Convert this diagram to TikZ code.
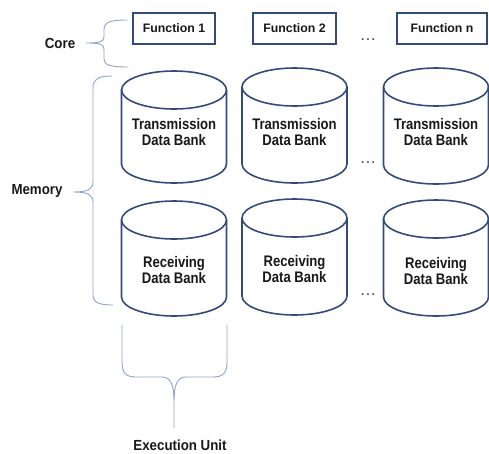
\documentclass[tikz,border=0pt]{standalone}
\usepackage{fontspec}
\setmainfont{Liberation Sans}
\definecolor{bankblue}{RGB}{52,74,122}
\definecolor{bracecol}{RGB}{140,165,200}
\definecolor{txt}{RGB}{25,25,25}
\newcommand\tallt[1]{\scalebox{1}[1.17]{#1}}
\newcommand\talll[1]{\scalebox{1}[1.1]{#1}}
\tikzset{
  bankline/.style={draw=bankblue, line width=1.6pt, fill=white},
  funcbox/.style={draw=bankblue, line width=1.6pt, fill=white, inner sep=0pt,
    font=\fontsize{12.3}{14}\selectfont\bfseries, text=txt},
  banktext/.style={align=center, inner sep=0pt,
    font=\fontsize{13.1}{16.5}\selectfont\bfseries, text=txt},
  lbl/.style={inner sep=0pt, font=\fontsize{13.3}{16}\selectfont\bfseries, text=txt},
  dotlbl/.style={inner sep=0pt, font=\fontsize{12}{14}\selectfont\bfseries, text=txt!75},
  bracepath/.style={draw=bracecol, line width=0.9pt, line cap=round, line join=round}
}
% #1 cx, #2 top, #3 bottom, #4 text y, #5 name, #6 line 1, #7 line 2
\newcommand\dbank[7]{%
  \draw[bankline] ({#1-52.5},{#2+19}) -- ({#1-52.5},{#3-19})
    .. controls ({#1-52.5},{#3-8.5}) and ({#1-29},{#3}) .. ({#1},{#3})
    .. controls ({#1+29},{#3}) and ({#1+52.5},{#3-8.5}) .. ({#1+52.5},{#3-19})
    -- ({#1+52.5},{#2+19})
    .. controls ({#1+52.5},{#2+8.5}) and ({#1+29},{#2}) .. ({#1},{#2})
    .. controls ({#1-29},{#2}) and ({#1-52.5},{#2+8.5}) .. ({#1-52.5},{#2+19}) -- cycle;
  \draw[bankline, fill=none] ({#1-52.5},{#2+19})
    .. controls ({#1-52.5},{#2+29.5}) and ({#1-29},{#2+38}) .. ({#1},{#2+38})
    .. controls ({#1+29},{#2+38}) and ({#1+52.5},{#2+29.5}) .. ({#1+52.5},{#2+19});
  \node[banktext] (#5) at (#1,#4) {\tallt{#6}\\\tallt{#7}};
}
\begin{document}
\begin{tikzpicture}[x=1pt,y=-1pt]
\useasboundingbox[fill=white] (0,0) rectangle (489,453);

% function boxes
\node[funcbox, minimum width=82pt, minimum height=31pt] (f1) at (174,28.5) {Function 1};
\node[funcbox, minimum width=83pt, minimum height=31pt] (f2) at (294.5,28.5) {Function 2};
\node[funcbox, minimum width=90pt, minimum height=31pt] (fn) at (442,28.5) {Function n};
\node[dotlbl] (fdots) at (368,40) {.\,.\,.};

% transmission banks
\dbank{174}{71}{183}{132}{t1}{Transmission}{Data Bank}
\dbank{294.5}{68}{183}{132}{t2}{Transmission}{Data Bank}
\dbank{436}{68}{184}{132}{tn}{Transmission}{Data Bank}
\node[dotlbl] (tdots) at (368,163) {.\,.\,.};

% receiving banks
\dbank{174}{201}{316}{270}{r1}{Receiving}{Data Bank}
\dbank{294.5}{199}{315}{269}{r2}{Receiving}{Data Bank}
\dbank{436}{200}{316}{271}{rn}{Receiving}{Data Bank}
\node[dotlbl] (rdots) at (368,295) {.\,.\,.};

% labels
\node[lbl] (core) at (60,43) {\talll{Core}};
\node[lbl] (mem) at (37,191) {\talll{Memory}};
\node[lbl] (exec) at (180,445) {\talll{Execution Unit}};

% core brace
\draw[bracepath] (127,20) .. controls (110,20) and (104,22) .. (104,30) -- (104,37)
  .. controls (104,42) and (99,43) .. (86,43)
  .. controls (99,43) and (104,44) .. (104,49) -- (104,59)
  .. controls (104,65) and (110,67) .. (128,67);

% memory brace
\draw[bracepath] (112,76) .. controls (98,76) and (93,79) .. (93,88) -- (93,182)
  .. controls (93,189) and (88,192) .. (74,192)
  .. controls (88,192) and (93,195) .. (93,202) -- (93,295)
  .. controls (93,302) and (98,305) .. (113,305);

% execution brace
\draw[bracepath] (122,325) -- (122,362)
  .. controls (122,373) and (126,377) .. (136,377) -- (162,377)
  .. controls (170,377) and (174,384) .. (174,400) -- (174,428);
\draw[bracepath] (227,325) -- (227,362)
  .. controls (227,373) and (223,377) .. (213,377) -- (186,377)
  .. controls (178,377) and (174,384) .. (174,400);
\end{tikzpicture}
\end{document}
